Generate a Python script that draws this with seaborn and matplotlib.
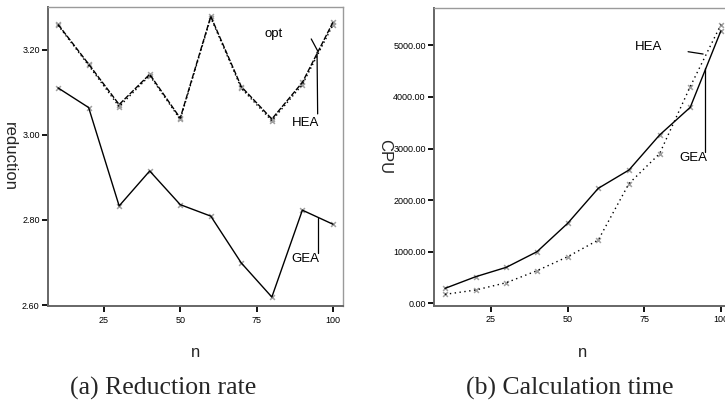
import matplotlib
matplotlib.use("Agg")
import matplotlib.pyplot as plt
from matplotlib.ticker import FormatStrFormatter
import pandas as pd
import seaborn as sns

# Problem sizes
n_values = [10, 20, 30, 40, 50, 60, 70, 80, 90, 100]

# (a) Reduction rate per method
reduction_opt = [3.257, 3.163, 3.066, 3.139, 3.036, 3.275, 3.109, 3.033, 3.118, 3.258]
reduction_hea = [3.259, 3.166, 3.071, 3.142, 3.039, 3.278, 3.113, 3.037, 3.123, 3.264]
reduction_gea = [3.110, 3.064, 2.833, 2.915, 2.836, 2.809, 2.699, 2.619, 2.823, 2.790]

# (b) CPU time per method
cpu_hea = [174, 258, 400, 632, 903, 1227, 2320, 2900, 4200, 5400]
cpu_gea = [290, 516, 698, 1000, 1550, 2229, 2583, 3262, 3798, 5280]

# Tick positions
x_ticks = [25, 50, 75, 100]
red_ticks = [2.60, 2.80, 3.00, 3.20]
cpu_ticks = [0, 1000, 2000, 3000, 4000, 5000]

sns.set_theme(style="ticks")
plt.rcParams["font.family"] = ["Liberation Sans", "DejaVu Sans"]

red_df = pd.DataFrame({
    "n": n_values * 3,
    "reduction": reduction_opt + reduction_hea + reduction_gea,
    "method": ["opt"] * 10 + ["HEA"] * 10 + ["GEA"] * 10,
})
cpu_df = pd.DataFrame({
    "n": n_values * 2,
    "CPU": cpu_hea + cpu_gea,
    "method": ["HEA"] * 10 + ["GEA"] * 10,
})

fig = plt.figure(figsize=(7.25, 4.04), dpi=100)
ax1 = fig.add_axes([48 / 725, 1 - 306 / 404, 295 / 725, 299 / 404])
ax2 = fig.add_axes([434 / 725, 1 - 305.7 / 404, 297 / 725, 297.7 / 404])

palette = {"opt": "black", "HEA": "black", "GEA": "black"}
red_dashes = {"opt": (1, 2), "HEA": (4, 1.2), "GEA": ""}
cpu_dashes = {"HEA": (1, 2.5), "GEA": ""}

for ax, df, ycol, dashes in [(ax1, red_df, "reduction", red_dashes),
                             (ax2, cpu_df, "CPU", cpu_dashes)]:
    sns.scatterplot(data=df, x="n", y=ycol, marker="x", color="#a0a0a0",
                    s=12, linewidth=1.1, ax=ax, zorder=2, legend=False)
    sns.lineplot(data=df, x="n", y=ycol, hue="method", style="method",
                 palette=palette, dashes=dashes, linewidth=1.0, ax=ax,
                 zorder=3, legend=False)

# Axis limits and ticks
ax1.set_xlim(6.7, 103.3)
ax1.set_ylim(2.598, 3.30)
ax1.set_yticks(red_ticks)
ax1.yaxis.set_major_formatter(FormatStrFormatter("%.2f"))

ax2.set_xlim(6.4, 103.3)
ax2.set_ylim(-46, 5723)
ax2.set_yticks(cpu_ticks)
ax2.yaxis.set_major_formatter(FormatStrFormatter("%.2f"))

for ax in (ax1, ax2):
    ax.set_xticks(x_ticks)
    ax.tick_params(axis="both", direction="out", length=4, width=1.3,
                   color="black", labelsize=6.5, labelcolor="black")
    ax.tick_params(axis="y", pad=2)
    ax.tick_params(axis="x", pad=3)
    for side in ("left", "bottom"):
        ax.spines[side].set_color("#666666")
        ax.spines[side].set_linewidth(1.4)
    for side in ("top", "right"):
        ax.spines[side].set_visible(True)
        ax.spines[side].set_color("#9a9a9a")
        ax.spines[side].set_linewidth(1.0)
    ax.set_xlabel("n", fontsize=12)

ax1.set_ylabel("reduction", fontsize=12, rotation=270, va="center", ha="center")
ax1.yaxis.set_label_coords(-0.13, 0.5)
ax1.xaxis.set_label_coords(0.5, -0.13)
ax2.set_ylabel("CPU", fontsize=12, rotation=270, va="center", ha="center")
ax2.yaxis.set_label_coords(-0.165, 0.5)
ax2.xaxis.set_label_coords(0.5, -0.132)

# Series labels with leader lines
lbl = dict(fontsize=9.5, ha="center", va="center", color="black")
ax1.text(80.6, 3.237, "opt", **lbl)
ax1.plot([92.9, 95.0], [3.225, 3.197], color="black", lw=0.9)
ax1.text(91.2, 3.027, "HEA", **lbl)
ax1.plot([95.0, 94.8], [3.049, 3.194], color="black", lw=0.9)
ax1.text(91.0, 2.709, "GEA", **lbl)
ax1.plot([95.0, 95.0], [2.723, 2.805], color="black", lw=0.9)

ax2.text(76.3, 4973, "HEA", **lbl)
ax2.plot([89.3, 94.2], [4876, 4831], color="black", lw=0.9)
ax2.text(90.9, 2810, "GEA", **lbl)
ax2.plot([94.8, 94.8], [2938, 4554], color="black", lw=0.9)

# Sub-figure captions
cap = dict(fontsize=18.5, ha="center", va="center", family="Liberation Serif")
fig.text(163 / 725, 1 - 388 / 404, "(a) Reduction rate", **cap)
fig.text(570 / 725, 1 - 388 / 404, "(b) Calculation time", **cap)

fig.savefig("out.png", dpi=100)
